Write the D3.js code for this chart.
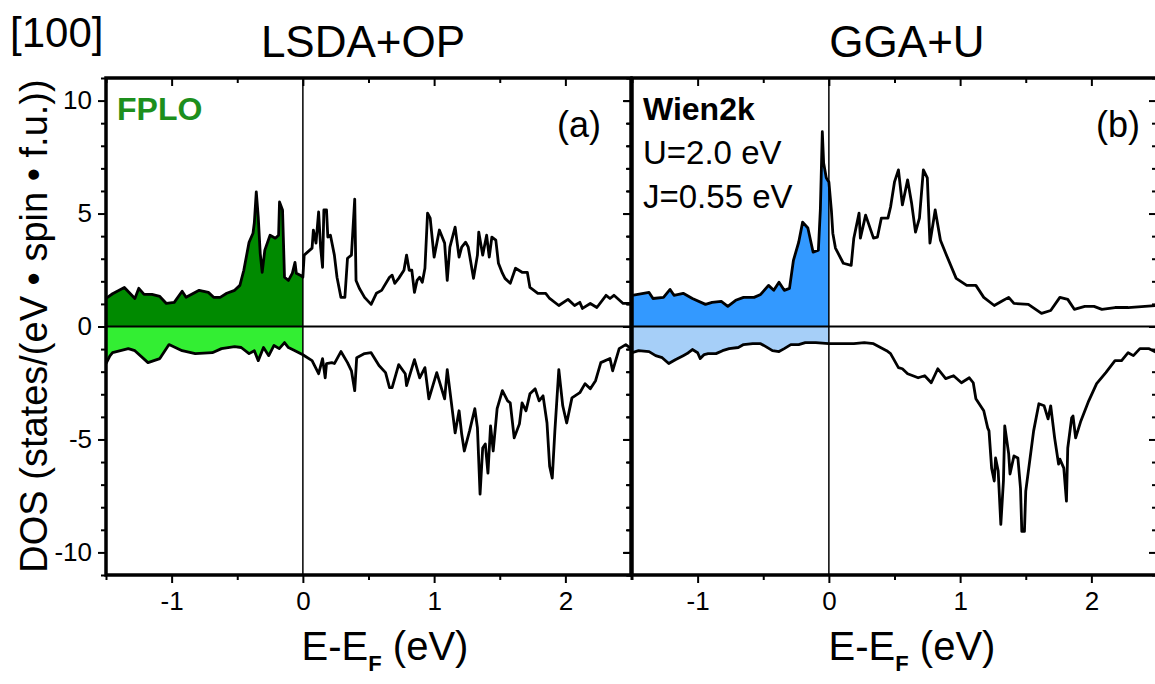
<!DOCTYPE html>
<html>
<head>
<meta charset="utf-8">
<script src="https://cdn.jsdelivr.net/npm/d3@7"></script>
<style>
  html, body { margin: 0; padding: 0; background: #fff; }
  svg text { font-family: Arial, "Liberation Sans", sans-serif; }
</style>
</head>
<body>
<svg id="chart" width="1155" height="684"></svg>
<script>
// DOS values, [E - EF (eV), states/(eV spin f.u.)]
const lsdaUp = [[-1.5,1.24],[-1.45,1.45],[-1.36,1.73],[-1.28,1.24],[-1.25,1.69],[-1.21,1.42],[-1.15,1.42],[-1.09,1.33],[-1.04,1.02],[-0.98,1.07],[-0.92,1.56],[-0.89,1.29],[-0.79,1.6],[-0.72,1.51],[-0.68,1.29],[-0.63,1.29],[-0.58,1.47],[-0.52,1.6],[-0.48,1.82],[-0.45,2.49],[-0.41,3.73],[-0.38,4.13],[-0.37,4.58],[-0.355,5.96],[-0.34,4.84],[-0.325,3.24],[-0.31,2.4],[-0.29,3.38],[-0.25,4.04],[-0.21,3.91],[-0.185,4.04],[-0.178,5.51],[-0.155,5.16],[-0.14,2.18],[-0.11,2.04],[-0.08,2.36],[-0.06,2.84],[-0.05,2.36],[-0.02,2.27],[0,2.18],[0.01,3.16],[0.07,3.47],[0.08,4.27],[0.1,3.69],[0.12,5.07],[0.135,3.51],[0.15,2.62],[0.16,5.16],[0.18,5.16],[0.19,3.96],[0.21,4.04],[0.24,3.16],[0.26,2.18],[0.29,1.29],[0.32,1.29],[0.34,3.02],[0.37,3.16],[0.395,5.64],[0.405,2.04],[0.43,1.69],[0.47,1.29],[0.52,0.98],[0.56,1.47],[0.6,1.6],[0.66,2.18],[0.68,2.27],[0.7,1.91],[0.73,2.13],[0.77,2.49],[0.79,3.16],[0.81,2.49],[0.83,2.49],[0.85,1.51],[0.87,2.04],[0.89,2.18],[0.91,1.96],[0.93,2.58],[0.95,5.02],[0.97,4.8],[1.0,3.07],[1.04,4.27],[1.08,3.69],[1.1,2.04],[1.12,3.51],[1.16,4.4],[1.19,3.07],[1.21,3.51],[1.24,3.73],[1.26,3.51],[1.3,2.13],[1.33,3.16],[1.34,4.18],[1.37,3.16],[1.4,4.04],[1.42,3.07],[1.44,3.96],[1.47,3.82],[1.49,2.8],[1.52,2.36],[1.54,2.13],[1.58,1.91],[1.62,2.58],[1.67,2.4],[1.71,2.4],[1.73,1.73],[1.79,1.47],[1.85,1.47],[1.88,1.24],[1.95,0.93],[2.02,1.2],[2.07,0.93],[2.11,1.07],[2.13,0.8],[2.19,1.02],[2.24,0.84],[2.31,1.38],[2.34,1.24],[2.37,1.38],[2.44,1.02],[2.5,1.02]];

const lsdaDown = [[-1.5,-1.64],[-1.47,-1.3],[-1.45,-1.16],[-1.33,-0.98],[-1.28,-1.07],[-1.18,-1.6],[-1.09,-1.42],[-1.02,-0.8],[-0.92,-1.07],[-0.82,-1.2],[-0.69,-1.16],[-0.62,-0.98],[-0.52,-0.89],[-0.47,-0.93],[-0.41,-1.2],[-0.37,-1.07],[-0.34,-1.51],[-0.3,-0.93],[-0.26,-1.29],[-0.22,-0.84],[-0.18,-0.98],[-0.14,-0.71],[-0.11,-0.93],[-0.06,-1.07],[0,-1.25],[0.07,-1.51],[0.12,-2.09],[0.15,-1.42],[0.17,-2.27],[0.18,-1.64],[0.22,-1.6],[0.24,-1.64],[0.29,-1.11],[0.34,-1.6],[0.37,-1.96],[0.395,-2.84],[0.41,-1.38],[0.47,-1.2],[0.52,-1.16],[0.58,-1.73],[0.63,-2.04],[0.66,-2.71],[0.68,-2.71],[0.73,-1.69],[0.78,-2.09],[0.79,-2.62],[0.85,-1.47],[0.89,-2.27],[0.93,-1.82],[0.96,-3.2],[1.02,-2.04],[1.08,-3.2],[1.1,-1.91],[1.12,-2.84],[1.16,-4.71],[1.19,-3.73],[1.21,-4.76],[1.23,-5.51],[1.27,-4.62],[1.31,-3.64],[1.33,-4.49],[1.35,-7.42],[1.37,-5.38],[1.39,-5.2],[1.41,-6.49],[1.43,-4.4],[1.45,-5.51],[1.48,-3.64],[1.52,-2.84],[1.56,-3.29],[1.58,-3.38],[1.61,-4.93],[1.65,-4.31],[1.67,-3.38],[1.7,-3.73],[1.73,-2.98],[1.77,-2.76],[1.8,-3.29],[1.83,-3.07],[1.86,-4.27],[1.88,-6.18],[1.9,-6.71],[1.92,-4.62],[1.95,-1.91],[1.98,-3.51],[2.01,-4.27],[2.05,-3.16],[2.11,-2.93],[2.15,-2.53],[2.19,-2.76],[2.23,-2.4],[2.27,-1.6],[2.34,-1.42],[2.36,-1.96],[2.41,-0.98],[2.46,-0.8],[2.5,-0.98]];

const ggaUp = [[-1.5,1.38],[-1.37,1.51],[-1.34,1.24],[-1.26,1.29],[-1.21,1.64],[-1.18,1.38],[-1.11,1.47],[-1.04,1.24],[-0.94,0.98],[-0.89,1.07],[-0.82,1.11],[-0.77,0.89],[-0.71,1.16],[-0.65,1.29],[-0.57,1.29],[-0.52,1.42],[-0.46,1.82],[-0.42,1.6],[-0.38,1.96],[-0.34,1.6],[-0.3,1.69],[-0.27,2.93],[-0.23,3.73],[-0.2,4.62],[-0.16,4.36],[-0.12,3.29],[-0.08,3.38],[-0.065,5.16],[-0.05,8.62],[-0.04,7.24],[-0.02,6.58],[-0.01,6.49],[0,6.4],[0.02,5.07],[0.03,4.13],[0.05,3.47],[0.11,2.8],[0.17,2.71],[0.19,3.91],[0.23,5.02],[0.24,3.91],[0.28,4.93],[0.34,3.91],[0.37,3.96],[0.4,4.8],[0.45,4.8],[0.47,5.29],[0.5,6.4],[0.53,6.93],[0.56,5.38],[0.6,6.49],[0.63,5.47],[0.66,4.18],[0.69,4.8],[0.72,6.93],[0.75,6.58],[0.77,3.69],[0.81,5.16],[0.85,3.82],[0.89,3.24],[0.97,2.13],[1.05,1.82],[1.12,1.82],[1.18,1.29],[1.26,0.93],[1.33,1.16],[1.37,1.29],[1.41,1.02],[1.52,0.98],[1.62,0.58],[1.69,0.71],[1.76,1.29],[1.82,1.2],[1.87,0.76],[1.95,0.89],[2.02,0.89],[2.08,0.76],[2.18,0.84],[2.28,0.84],[2.5,0.93]];

const ggaDown = [[-1.5,-1.16],[-1.45,-1.07],[-1.37,-1.11],[-1.32,-1.29],[-1.27,-1.38],[-1.22,-1.64],[-1.17,-1.47],[-1.11,-1.29],[-1.08,-1.2],[-1.04,-1.02],[-1.0,-1.16],[-0.98,-1.42],[-0.95,-1.24],[-0.92,-1.2],[-0.86,-1.2],[-0.81,-1.07],[-0.76,-0.98],[-0.69,-0.93],[-0.65,-0.8],[-0.58,-0.76],[-0.52,-0.76],[-0.48,-0.89],[-0.43,-1.07],[-0.38,-1.11],[-0.34,-0.98],[-0.29,-0.8],[-0.23,-0.8],[-0.18,-0.71],[-0.1,-0.71],[0,-0.76],[0.08,-0.76],[0.19,-0.76],[0.27,-0.71],[0.34,-0.76],[0.44,-1.07],[0.47,-1.2],[0.53,-1.82],[0.56,-1.87],[0.6,-2.09],[0.68,-2.27],[0.73,-2.18],[0.78,-2.49],[0.83,-1.87],[0.89,-2.31],[0.95,-2.18],[1.01,-2.49],[1.07,-2.27],[1.1,-2.49],[1.12,-3.2],[1.18,-3.73],[1.21,-4.49],[1.22,-4.62],[1.24,-6.27],[1.26,-6.84],[1.27,-5.82],[1.29,-6.4],[1.31,-8.76],[1.33,-6.84],[1.34,-4.4],[1.37,-5.64],[1.38,-6.53],[1.41,-5.73],[1.44,-5.82],[1.46,-7.16],[1.47,-9.07],[1.49,-9.07],[1.5,-7.29],[1.53,-5.96],[1.56,-4.62],[1.6,-3.42],[1.64,-3.51],[1.67,-4.09],[1.69,-3.51],[1.72,-4.93],[1.75,-6.09],[1.76,-5.87],[1.79,-6.27],[1.81,-7.73],[1.82,-5.38],[1.85,-4.04],[1.86,-3.96],[1.88,-4.93],[1.92,-4.18],[1.98,-3.29],[2.04,-2.53],[2.11,-2.04],[2.18,-1.51],[2.23,-1.51],[2.28,-1.16],[2.32,-1.29],[2.37,-0.98],[2.44,-0.98],[2.5,-1.16]];

const xTicks = [-1, 0, 1, 2];
const xMinor = [-1.5, -0.5, 0.5, 1.5, 2.5];
const yTicks = [-10, -5, 0, 5, 10];
const yMinor = [-11, -9, -8, -7, -6, -4, -3, -2, -1, 1, 2, 3, 4, 6, 7, 8, 9, 11];

const panels = [
  { id: 'a', title: 'LSDA+OP', up: lsdaUp, down: lsdaDown, left: 106, right: 631,
    upFill: '#008a00', downFill: '#33ee33', yLabels: true,
    titleX: 363, xLabelX: 385, tagX: 601 },
  { id: 'b', title: 'GGA+U', up: ggaUp, down: ggaDown, left: 632, right: 1157,
    upFill: '#3399ff', downFill: '#a6cff8', yLabels: false,
    titleX: 907, xLabelX: 912, tagX: 1140 }
];

const svg = d3.select('#chart');
const plotTop = 78, plotBottom = 575;
const y = d3.scaleLinear().domain([-11, 11]).range([plotBottom, plotTop]);

panels.forEach(p => {
  const x = d3.scaleLinear().domain([-1.5, 2.5]).range([p.left, p.right]);
  const g = svg.append('g');

  g.append('clipPath').attr('id', 'occ-' + p.id)
    .append('rect')
    .attr('x', p.left).attr('y', plotTop)
    .attr('width', x(0) - p.left).attr('height', plotBottom - plotTop);
  g.append('clipPath').attr('id', 'box-' + p.id)
    .append('rect')
    .attr('x', p.left).attr('y', plotTop)
    .attr('width', p.right - p.left).attr('height', plotBottom - plotTop);

  const area = d3.area().x(d => x(d[0])).y0(y(0)).y1(d => y(d[1]));
  const line = d3.line().x(d => x(d[0])).y(d => y(d[1]));

  g.append('path').datum(p.up).attr('d', area)
    .attr('fill', p.upFill).attr('clip-path', `url(#occ-${p.id})`);
  g.append('path').datum(p.down).attr('d', area)
    .attr('fill', p.downFill).attr('clip-path', `url(#occ-${p.id})`);

  // zero lines
  g.append('line').attr('x1', p.left).attr('x2', p.right)
    .attr('y1', y(0)).attr('y2', y(0)).attr('stroke', '#000').attr('stroke-width', 2);
  g.append('line').attr('x1', x(0)).attr('x2', x(0))
    .attr('y1', plotTop).attr('y2', plotBottom).attr('stroke', '#000').attr('stroke-width', 1.5);

  [p.up, p.down].forEach(s => {
    g.append('path').datum(s).attr('d', line)
      .attr('fill', 'none').attr('stroke', '#000')
      .attr('stroke-width', 2.8).attr('stroke-linejoin', 'round')
      .attr('clip-path', `url(#box-${p.id})`);
  });

  // axes, ticks on all four sides
  const fmt = d => String(d);
  g.append('g').attr('transform', `translate(0,${plotBottom})`)
    .call(d3.axisBottom(x).tickValues(xTicks).tickSize(8).tickPadding(9).tickFormat(fmt));
  g.append('g').attr('transform', `translate(0,${plotBottom})`)
    .call(d3.axisBottom(x).tickValues(xMinor).tickSize(5).tickFormat(''));
  g.append('g').attr('transform', `translate(0,${plotTop})`)
    .call(d3.axisTop(x).tickValues(xTicks).tickSize(-8).tickFormat(''));
  g.append('g').attr('transform', `translate(0,${plotTop})`)
    .call(d3.axisTop(x).tickValues(xMinor).tickSize(-5).tickFormat(''));

  g.append('g').attr('transform', `translate(${p.left},0)`)
    .call(d3.axisLeft(y).tickValues(yTicks).tickSize(8).tickPadding(6)
      .tickFormat(p.yLabels ? fmt : ''));
  g.append('g').attr('transform', `translate(${p.left},0)`)
    .call(d3.axisLeft(y).tickValues(yMinor).tickSize(5).tickFormat(''));
  g.append('g').attr('transform', `translate(${p.right},0)`)
    .call(d3.axisRight(y).tickValues(yTicks).tickSize(-8).tickFormat(''));
  g.append('g').attr('transform', `translate(${p.right},0)`)
    .call(d3.axisRight(y).tickValues(yMinor).tickSize(-5).tickFormat(''));

  g.selectAll('.domain').remove();
  g.selectAll('.tick line').attr('stroke', '#000').attr('stroke-width', 2);
  g.selectAll('.tick text').attr('font-size', 26).attr('fill', '#000');

  // frame
  g.append('rect').attr('x', p.left).attr('y', plotTop)
    .attr('width', p.right - p.left).attr('height', plotBottom - plotTop)
    .attr('fill', 'none').attr('stroke', '#000').attr('stroke-width', 3.5);

  // titles
  svg.append('text').attr('x', p.titleX).attr('y', 57)
    .attr('text-anchor', 'middle').attr('font-size', 44).text(p.title);

  const xl = svg.append('text').attr('x', p.xLabelX).attr('y', 660)
    .attr('text-anchor', 'middle').attr('font-size', 40);
  xl.append('tspan').text('E-E');
  xl.append('tspan').attr('font-size', 22).attr('font-weight', 'bold').attr('dy', 11).text('F');
  xl.append('tspan').attr('dy', -11).text(' (eV)');

  svg.append('text').attr('x', p.tagX).attr('y', 137)
    .attr('text-anchor', 'end').attr('font-size', 36).text(`(${p.id})`);
});

svg.append('text').attr('x', 10).attr('y', 47).attr('font-size', 42).text('[100]');

svg.append('text')
  .attr('transform', 'translate(47,326) rotate(-90)')
  .attr('text-anchor', 'middle').attr('font-size', 38)
  .text('DOS (states/(eV \u2022 spin \u2022 f.u.))');

svg.append('text').attr('x', 117).attr('y', 120).attr('font-size', 32)
  .attr('font-weight', 'bold').attr('fill', '#1d8f1d').text('FPLO');
svg.append('text').attr('x', 643).attr('y', 120).attr('font-size', 32)
  .attr('font-weight', 'bold').text('Wien2k');
svg.append('text').attr('x', 643).attr('y', 164).attr('font-size', 33).text('U=2.0 eV');
svg.append('text').attr('x', 643).attr('y', 208).attr('font-size', 33).text('J=0.55 eV');
</script>
</body>
</html>
